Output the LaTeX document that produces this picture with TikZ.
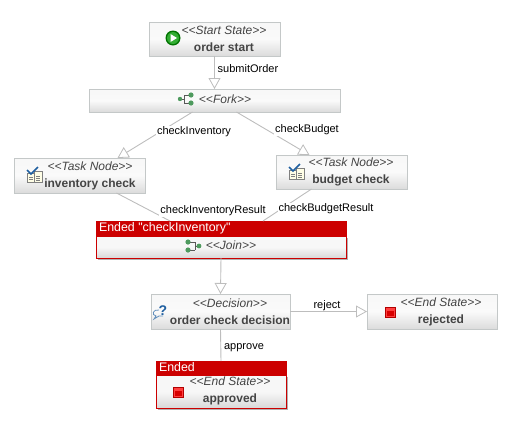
\documentclass[tikz,border=0pt]{standalone}
\usepackage{fontspec}
\newfontfamily\uifont{Liberation Sans}
\usetikzlibrary{arrows.meta,shadows}
\definecolor{edgegray}{HTML}{BDBDBD}
\definecolor{boxgray}{HTML}{C4C8C8}
\definecolor{endedred}{HTML}{CC0000}
\definecolor{namegray}{HTML}{444444}
\definecolor{iconblue}{HTML}{1F5FA0}
\definecolor{icongreen}{HTML}{4E9A5E}
\tikzset{
  statebox/.style={rectangle, draw=boxgray, line width=1pt, inner sep=0pt, outer sep=0pt, top color=white!94!gray, bottom color=gray!28, middle color=white!96!gray, drop shadow={shadow xshift=1pt, shadow yshift=-1pt, fill=gray!40, opacity=1}},
  endedbox/.style={rectangle, draw=endedred, line width=1pt, inner sep=0pt, outer sep=0pt, top color=white!94!gray, bottom color=gray!30, middle color=white!94!gray, drop shadow={shadow xshift=1.5pt, shadow yshift=-1.5pt, fill=gray!60, opacity=1}},
  endedhead/.style={rectangle, draw=endedred, fill=endedred, line width=1pt, inner sep=0pt, outer sep=0pt, text=white, font=\uifont\fontsize{12.4}{14}\selectfont, text height=8pt, text depth=2pt, align=left},
  boxtext/.style={inner sep=0pt, align=center, font=\uifont\fontsize{12}{17}\selectfont, text=namegray},
  edgelabel/.style={inner sep=1pt, fill=white, font=\uifont\fontsize{11}{12}\selectfont},
  edge/.style={draw=edgegray, line width=0.9pt},
  flow/.style={edge, -{Triangle[length=11pt, width=12pt, fill=white, line width=0.8pt]}},
  pics/starticon/.style={code={
    \fill[green!45!black] (0,0) circle (7.5);
    \fill[green!60!black!80!white] (0,0) circle (6);
    \fill[white] (-2.5,-4) -- (4,0) -- (-2.5,4) -- cycle;}},
  pics/endicon/.style={code={
    \draw[red!70!black, fill=red!75!white, line width=0.8pt] (-5,-5) rectangle (5,5);
    \fill[red!85!black] (-3.5,-1) rectangle (3.5,3.5);}},
  pics/taskicon/.style={code={
    \draw[gray, fill=white!90!yellow, line width=0.6pt] (-7,-2) rectangle (1,7);
    \draw[gray, fill=white!90!yellow, line width=0.6pt] (0,-4) rectangle (8,7);
    \draw[iconblue, line width=1.6pt] (-7,-5) -- (-3,-1) -- (4,-8);
    \draw[gray, line width=0.5pt] (2,1) -- (6,1) (2,3) -- (6,3) (2,5) -- (6,5) (-5,2) -- (-1,2) (-5,4) -- (-1,4);}},
  pics/forkicon/.style={code={
    \draw[gray!70!black, line width=0.7pt] (-5,0) -- (-2,0) (-2,-4) -- (-2,4) (-2,-4) -- (4,-4) (-2,4) -- (4,4);
    \fill[icongreen] (-6,0) circle (2.2) (5,-4) circle (2.6) (5,4) circle (2.6);}},
  pics/joinicon/.style={code={
    \draw[gray!70!black, line width=0.7pt] (-4,-4) -- (2,-4) (-4,4) -- (2,4) (2,-4) -- (2,4) (2,0) -- (5,0);
    \fill[icongreen] (-5,-4) circle (2.6) (-5,4) circle (2.6) (6,0) circle (2.4);}},
  pics/decisionicon/.style={code={
    \draw[iconblue!70!white, line width=0.8pt] (-2,-2) .. controls (-8,-3) and (-10,3) .. (-5,4) -- (-7,7) -- (-2,4) -- (2,4);
    \node[inner sep=0pt, text=iconblue, font=\uifont\bfseries\fontsize{14}{14}\selectfont] (decisionmark) at (2,-1) {?};}},
}
\begin{document}
\begin{tikzpicture}[x=1pt,y=-1pt]
\useasboundingbox (0,0) rectangle (531,421);
% plain boxes
\node[statebox, minimum width=131pt, minimum height=34pt] (start) at (214.5,39) {};
\node[statebox, minimum width=251pt, minimum height=23pt] (fork) at (214.5,100.5) {};
\node[statebox, minimum width=131pt, minimum height=35pt] (inventory) at (79.5,175.5) {};
\node[statebox, minimum width=131pt, minimum height=34pt] (budget) at (341.5,172) {};
\node[statebox, minimum width=139pt, minimum height=35pt] (decision) at (220.5,311.5) {};
\node[statebox, minimum width=130pt, minimum height=35pt] (rejected) at (432,311.5) {};
% boxes in the ended state
\node[endedbox, minimum width=250pt, minimum height=22pt] (join) at (221,247) {};
\node[endedhead, minimum width=250pt, minimum height=15pt] (joinhead) at (221,228.5) {};
\node[endedbox, minimum width=130pt, minimum height=33pt] (approved) at (221,391.5) {};
\node[endedhead, minimum width=130pt, minimum height=14pt] (approvedhead) at (221,368) {};
% connectors
\draw[flow] (start) -- (fork.north -| start);
\draw[flow] ([xshift=-22pt]fork.south) -- ([xshift=38pt]inventory.north);
\draw[flow] ([xshift=22pt]fork.south) -- ([xshift=-32pt]budget.north);
\draw[edge] ([xshift=37pt]inventory.south) -- ([xshift=-51pt]joinhead.north);
\draw[edge] ([xshift=-30pt]budget.south) -- ([xshift=42pt]joinhead.north);
\draw[flow] (join.south) -- (decision.north);
\draw[flow] (decision) -- (rejected);
\draw[edge] (decision.south) -- (approvedhead.north);
% connector labels
\node[edgelabel] (submitlabel) at (248,69) {submitOrder};
\node[edgelabel] (inventorylabel) at (194,132) {checkInventory};
\node[edgelabel] (budgetlabel) at (307,130) {checkBudget};
\node[edgelabel] (inventoryresult) at (213,211) {checkInventoryResult};
\node[edgelabel] (budgetresult) at (326,209) {checkBudgetResult};
\node[edgelabel, fill=none] (rejectlabel) at (327,306) {reject};
\node[edgelabel] (approvelabel) at (244,348) {approve};
% box texts
\node[boxtext] (starttext) at (224,39) {\textit{<<Start State>>}\\\bfseries order start};
\node[boxtext] (forktext) at (225,99) {\textit{<<Fork>>}};
\node[boxtext] (inventorytext) at (90,175.5) {\textit{<<Task Node>>}\\\bfseries inventory check};
\node[boxtext] (budgettext) at (351,172) {\textit{<<Task Node>>}\\\bfseries budget check};
\node[boxtext] (jointext) at (231,245) {\textit{<<Join>>}};
\node[boxtext] (decisiontext) at (230,311.5) {\textit{<<Decision>>}\\\bfseries order check decision};
\node[boxtext] (rejectedtext) at (441,311.5) {\textit{<<End State>>}\\\bfseries rejected};
\node[boxtext] (approvedtext) at (230,391) {\textit{<<End State>>}\\\bfseries approved};
\node[endedhead, draw=none, fill=none, anchor=west] (joinended) at (99,228.5) {Ended "checkInventory"};
\node[endedhead, draw=none, fill=none, anchor=west] (approvedended) at (159,368) {Ended};
% icons
\pic at (173,38) {starticon};
\pic at (186,99) {forkicon};
\pic at (34,175) {taskicon};
\pic at (296,172) {taskicon};
\pic at (193,246) {joinicon};
\pic at (161,312) {decisionicon};
\pic at (390,312) {endicon};
\pic at (178,392) {endicon};
\end{tikzpicture}
\end{document}
